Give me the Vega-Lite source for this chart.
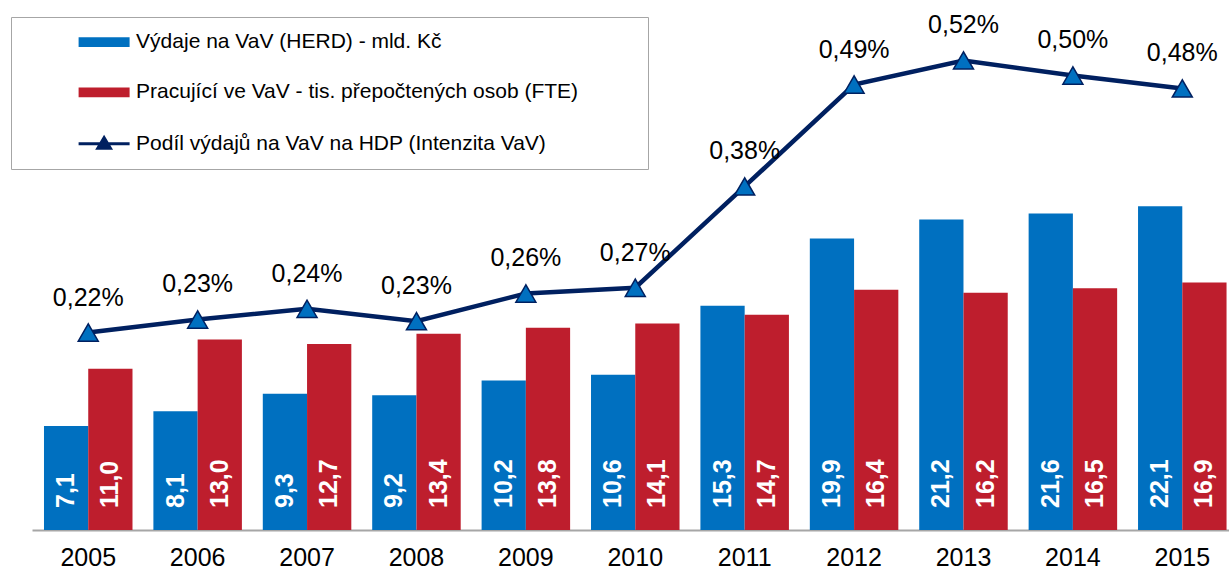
{
  "$schema": "https://vega.github.io/schema/vega-lite/v6.json",
  "width": 1197,
  "height": 530,
  "autosize": {"type": "none"},
  "padding": {"left": 32, "top": 0, "right": 0, "bottom": 43},
  "background": "white",
  "config": {
    "view": {"stroke": null},
    "font": "Liberation Sans",
    "locale": {"number": {"decimal": ",", "thousands": " ", "grouping": [3], "currency": ["", " Kč"]}}
  },
  "datasets": {
    "vyzkum": [
      {"rok": "2005", "rada": "Výdaje na VaV (HERD) - mld. Kč", "hodnota": 7.1},
      {"rok": "2005", "rada": "Pracující ve VaV - tis. přepočtených osob (FTE)", "hodnota": 11.0},
      {"rok": "2006", "rada": "Výdaje na VaV (HERD) - mld. Kč", "hodnota": 8.1},
      {"rok": "2006", "rada": "Pracující ve VaV - tis. přepočtených osob (FTE)", "hodnota": 13.0},
      {"rok": "2007", "rada": "Výdaje na VaV (HERD) - mld. Kč", "hodnota": 9.3},
      {"rok": "2007", "rada": "Pracující ve VaV - tis. přepočtených osob (FTE)", "hodnota": 12.7},
      {"rok": "2008", "rada": "Výdaje na VaV (HERD) - mld. Kč", "hodnota": 9.2},
      {"rok": "2008", "rada": "Pracující ve VaV - tis. přepočtených osob (FTE)", "hodnota": 13.4},
      {"rok": "2009", "rada": "Výdaje na VaV (HERD) - mld. Kč", "hodnota": 10.2},
      {"rok": "2009", "rada": "Pracující ve VaV - tis. přepočtených osob (FTE)", "hodnota": 13.8},
      {"rok": "2010", "rada": "Výdaje na VaV (HERD) - mld. Kč", "hodnota": 10.6},
      {"rok": "2010", "rada": "Pracující ve VaV - tis. přepočtených osob (FTE)", "hodnota": 14.1},
      {"rok": "2011", "rada": "Výdaje na VaV (HERD) - mld. Kč", "hodnota": 15.3},
      {"rok": "2011", "rada": "Pracující ve VaV - tis. přepočtených osob (FTE)", "hodnota": 14.7},
      {"rok": "2012", "rada": "Výdaje na VaV (HERD) - mld. Kč", "hodnota": 19.9},
      {"rok": "2012", "rada": "Pracující ve VaV - tis. přepočtených osob (FTE)", "hodnota": 16.4},
      {"rok": "2013", "rada": "Výdaje na VaV (HERD) - mld. Kč", "hodnota": 21.2},
      {"rok": "2013", "rada": "Pracující ve VaV - tis. přepočtených osob (FTE)", "hodnota": 16.2},
      {"rok": "2014", "rada": "Výdaje na VaV (HERD) - mld. Kč", "hodnota": 21.6},
      {"rok": "2014", "rada": "Pracující ve VaV - tis. přepočtených osob (FTE)", "hodnota": 16.5},
      {"rok": "2015", "rada": "Výdaje na VaV (HERD) - mld. Kč", "hodnota": 22.1},
      {"rok": "2015", "rada": "Pracující ve VaV - tis. přepočtených osob (FTE)", "hodnota": 16.9}
    ],
    "intenzita": [
      {"rok": "2005", "podil": 0.002166},
      {"rok": "2006", "podil": 0.002309},
      {"rok": "2007", "podil": 0.002426},
      {"rok": "2008", "podil": 0.002290},
      {"rok": "2009", "podil": 0.002594},
      {"rok": "2010", "podil": 0.002657},
      {"rok": "2011", "podil": 0.003768},
      {"rok": "2012", "podil": 0.004886},
      {"rok": "2013", "podil": 0.005150},
      {"rok": "2014", "podil": 0.004985},
      {"rok": "2015", "podil": 0.004843}
    ]
  },
  "layer": [
    {
      "data": {"name": "vyzkum"},
      "layer": [
        {
          "mark": {"type": "bar"},
          "encoding": {
            "x": {
              "field": "rok", "type": "nominal",
              "scale": {"paddingInner": 0.191, "paddingOuter": 0.066, "align": 0.83},
              "axis": {"title": null, "labelAngle": 0, "labelFontSize": 25, "labelColor": "black", "labelFont": "Liberation Sans", "ticks": false, "tickSize": 0, "labelPadding": 15, "domainColor": "#A6A6A6", "domainWidth": 2, "grid": false}
            },
            "xOffset": {"field": "rada", "type": "nominal", "scale": {"domain": ["Výdaje na VaV (HERD) - mld. Kč", "Pracující ve VaV - tis. přepočtených osob (FTE)"], "paddingInner": 0, "paddingOuter": 0}},
            "y": {"field": "hodnota", "type": "quantitative", "scale": {"domain": [0, 36.18], "nice": false, "zero": true}, "axis": null},
            "color": {
              "field": "rada", "type": "nominal",
              "scale": {
                "domain": ["Výdaje na VaV (HERD) - mld. Kč", "Pracující ve VaV - tis. přepočtených osob (FTE)", "Podíl výdajů na VaV na HDP (Intenzita VaV)"],
                "range": ["#0070C0", "#BE1E2D", "#002060"]
              },
              "legend": {
                "title": " ",
                "titleOrient": "right",
                "titlePadding": 55,
                "titleFontSize": 1,
                "orient": "none",
                "legendX": -21,
                "legendY": 17,
                "strokeColor": "#A6A6A6",
                "padding": 14.6,
                "symbolSize": 900,
                "rowPadding": 28.3,
                "labelFontSize": 21,
                "labelFont": "Liberation Sans",
                "labelColor": "black",
                "labelLimit": 800,
                "symbolOffset": 68,
                "labelOffset": 21.5,
                "encode": {
                  "symbols": {
                    "update": {
                      "shape": {"signal": "datum.value === 'Podíl výdajů na VaV na HDP (Intenzita VaV)' ? 'M-1.7,0L1.7,0M-0.42,0.3L0,-0.4L0.42,0.3Z' : 'M-1.7,-0.32L1.7,-0.32L1.7,0.32L-1.7,0.32Z'"},
                      "fill": {"signal": "datum.value === 'Pracující ve VaV - tis. přepočtených osob (FTE)' ? '#BE1E2D' : '#0070C0'"},
                      "stroke": {"signal": "datum.value === 'Podíl výdajů na VaV na HDP (Intenzita VaV)' ? '#002060' : 'transparent'"},
                      "strokeWidth": {"signal": "datum.value === 'Podíl výdajů na VaV na HDP (Intenzita VaV)' ? 3 : 0"},
                      "opacity": {"value": 1},
                      "fillOpacity": {"value": 1}
                    }
                  }
                }
              }
            }
          }
        },
        {
          "mark": {"type": "text", "angle": 270, "align": "left", "baseline": "middle", "dx": 22, "fontSize": 25, "fontWeight": "bold", "color": "white", "font": "Liberation Sans"},
          "encoding": {
            "x": {"field": "rok", "type": "nominal"},
            "xOffset": {"field": "rada", "type": "nominal"},
            "y": {"datum": 0, "type": "quantitative"},
            "text": {"field": "hodnota", "type": "quantitative", "format": ".1f"}
          }
        }
      ]
    },
    {
      "data": {"name": "intenzita"},
      "layer": [
        {
          "mark": {"type": "line", "color": "#002060", "strokeWidth": 4.5},
          "encoding": {
            "x": {"field": "rok", "type": "nominal"},
            "y": {"field": "podil", "type": "quantitative", "scale": {"domain": [0, 0.005813], "nice": false, "zero": true}, "axis": null}
          }
        },
        {
          "mark": {"type": "point", "shape": "triangle-up", "size": 400, "filled": true, "fill": "#0070C0", "stroke": "#002060", "strokeWidth": 1.5, "opacity": 1},
          "encoding": {
            "x": {"field": "rok", "type": "nominal"},
            "y": {"field": "podil", "type": "quantitative"}
          }
        },
        {
          "mark": {"type": "text", "dy": -27, "baseline": "alphabetic", "align": "center", "fontSize": 25, "color": "black", "font": "Liberation Sans"},
          "encoding": {
            "x": {"field": "rok", "type": "nominal"},
            "y": {"field": "podil", "type": "quantitative"},
            "text": {"field": "podil", "type": "quantitative", "format": ".2%"}
          }
        }
      ]
    }
  ],
  "resolve": {"scale": {"y": "independent"}}
}
